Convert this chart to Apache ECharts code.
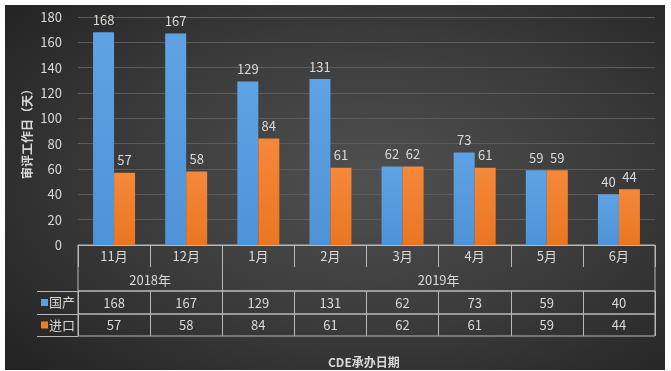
<!DOCTYPE html>
<html>
<head>
<meta charset="utf-8">
<script src="https://cdn.jsdelivr.net/npm/echarts@6/dist/echarts.min.js"></script>
<style>
html,body{margin:0;padding:0;background:#fff;}
#c{position:absolute;left:5px;top:5px;width:660px;height:365px;
background:radial-gradient(ellipse 70% 75% at 55% 48%, #505050 0%, #3a3a3a 55%, #242424 100%);}
</style>
</head>
<body>
<div id="c"></div>
<script>
const months = ['11月','12月','1月','2月','3月','4月','5月','6月'];
const years = ['2018年','2019年'];
const monthsPerYear = [2, 6];
const domestic = [168,167,129,131,62,73,59,40];
const imported = [57,58,84,61,62,61,59,44];
const seriesNames = ['国产','进口'];
const yMax = 180, yInterval = 20;

// year row axis: points at half-month steps
const yearPts = new Array(months.length * 2 + 1).fill('');
const yearBounds = [];
let s = 0;
years.forEach((y, i) => {
  const n = monthsPerYear[i];
  yearPts[2 * s + n] = y;
  if (s + n < months.length) yearBounds.push(2 * (s + n));
  s += n;
});

const txt = '#d9d9d9';
const lineC = '#b8b8b8';
const font = "'Noto Sans CJK SC', 'Noto Sans', sans-serif";
const blue = {type:'linear',x:0,y:0,x2:0,y2:1,colorStops:[{offset:0,color:'#5fa3e4'},{offset:1,color:'#4f92d6'}]};
const orange = {type:'linear',x:0,y:0,x2:0,y2:1,colorStops:[{offset:0,color:'#f5883a'},{offset:1,color:'#ea7622'}]};

const L = 73, R = 10;
const chart = echarts.init(document.getElementById('c'));

function rowY(gi, name, color) {
  return [
    {gridIndex: gi, type:'category', data:[name],
     axisLine:{show:false},
     axisTick:{show:true, length:41, lineStyle:{color:lineC}},
     axisLabel:{margin:3, formatter: v => '{sq|}{t|' + v + '}',
       rich:{sq:{width:7,height:7,backgroundColor:color}, t:{color:txt,fontSize:13,fontFamily:font,padding:[0,0,0,1]}}}},
    {gridIndex: gi, type:'category', data:[name], offset:41,
     axisLine:{show:true, lineStyle:{color:lineC}}, axisTick:{show:false}, axisLabel:{show:false}}
  ];
}
function rowX(gi, vals) {
  return {gridIndex: gi, type:'category', data: vals.map(String), boundaryGap:true,
    axisLine:{show:false}, axisTick:{show:false},
    splitLine:{show:true, lineStyle:{color:lineC}},
    axisLabel:{inside:true, margin:11, verticalAlign:'middle', color:txt, fontSize:13, fontFamily:font, interval:0}};
}

chart.setOption({
  backgroundColor:'transparent',
  textStyle:{fontFamily:font},
  title:{text:'CDE承办日期', left:318, top:346, textStyle:{color:txt, fontSize:12, fontWeight:'bold', fontFamily:font}},
  grid:[
    {left:L, right:R, top:12, bottom:125},
    {left:L, right:R, top:240, height:46, show:true, borderColor:lineC, borderWidth:1, backgroundColor:'transparent'},
    {left:L, right:R, top:286, height:23, show:true, borderColor:lineC, borderWidth:1, backgroundColor:'transparent'},
    {left:L, right:R, top:309, height:22, show:true, borderColor:lineC, borderWidth:1, backgroundColor:'transparent'}
  ],
  xAxis:[
    {gridIndex:0, type:'category', data:months,
     axisLine:{show:true, lineStyle:{color:lineC}},
     axisTick:{show:true, length:22, lineStyle:{color:lineC}},
     axisLabel:{color:txt, fontSize:13, margin:5, fontFamily:font}},
    {gridIndex:1, type:'category', data:yearPts, boundaryGap:false,
     axisLine:{show:false}, axisTick:{show:false},
     splitLine:{show:true, interval:(i) => yearBounds.indexOf(i) >= 0, lineStyle:{color:lineC}},
     axisLabel:{inside:true, interval:0, margin:11, verticalAlign:'middle', color:txt, fontSize:13, fontFamily:font}},
    rowX(2, domestic),
    rowX(3, imported)
  ],
  yAxis:[
    {gridIndex:0, type:'value', min:0, max:yMax, interval:yInterval,
     name:'审评工作日（天）', nameLocation:'middle', nameGap:45, nameRotate:90, nameMoveOverlap:false,
     nameTextStyle:{color:txt, fontSize:12, fontWeight:'bold', fontFamily:font},
     axisLine:{show:false}, axisTick:{show:false},
     axisLabel:{color:txt, fontSize:13, margin:16, fontFamily:font},
     splitLine:{lineStyle:{color:'#5c5c5c'}}},
    {gridIndex:1, type:'category', data:[''], axisLine:{show:false}, axisTick:{show:false}, axisLabel:{show:false}},
    ...rowY(2, seriesNames[0], '#5b9fe0'),
    ...rowY(3, seriesNames[1], '#f07f2a')
  ],
  series:[
    {name:seriesNames[0], type:'bar', xAxisIndex:0, yAxisIndex:0, data:domestic, barWidth:21, barGap:'0%',
     itemStyle:{color:blue},
     label:{show:true, position:'top', distance:6, color:txt, fontSize:13, fontFamily:font}},
    {name:seriesNames[1], type:'bar', xAxisIndex:0, yAxisIndex:0, data:imported, barWidth:21, barGap:'0%',
     itemStyle:{color:orange},
     label:{show:true, position:'top', distance:6, color:txt, fontSize:13, fontFamily:font}}
  ]
});
</script>
</body>
</html>
